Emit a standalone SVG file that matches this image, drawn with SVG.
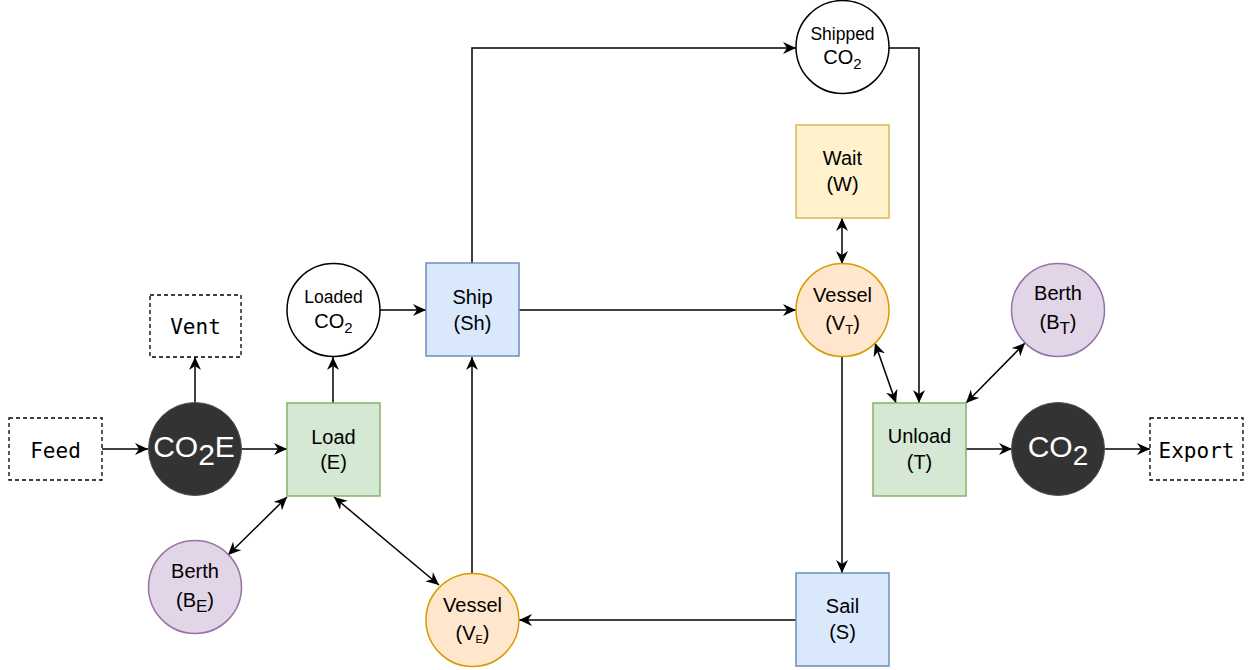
<svg xmlns="http://www.w3.org/2000/svg" width="1248" height="670" viewBox="0 0 1248 670">
  <defs>
    <marker id="arrow" viewBox="0 0 13 12" refX="13" refY="6" markerWidth="13" markerHeight="12" markerUnits="userSpaceOnUse" orient="auto-start-reverse">
      <path d="M0,0 L13,6 L0,12 L4,6 Z" fill="#000"/>
    </marker>
    <style>
      .lbl { font-family: "Liberation Sans", Arial, sans-serif; font-size: 20px; fill: #000; text-anchor: middle; }
      .sm { font-size: 17.5px; }
      .mono { font-family: "DejaVu Sans Mono", "Liberation Mono", monospace; font-size: 21px; fill: #000; text-anchor: middle; }
      .big { font-family: "Liberation Sans", Arial, sans-serif; font-size: 30px; fill: #fff; text-anchor: middle; }
      .term { fill: #fff; stroke: #000; stroke-width: 1.3; stroke-dasharray: 4 3; }
      .dark { fill: #333333; stroke: #555; stroke-width: 1; }
      .plain { fill: #fff; stroke: #000; stroke-width: 1.5; }
      .green { fill: #d5e8d4; stroke: #82b366; stroke-width: 1.5; }
      .blue { fill: #dae8fc; stroke: #6c8ebf; stroke-width: 1.5; }
      .yellow { fill: #fff2cc; stroke: #d6b656; stroke-width: 1.5; }
      .orange { fill: #ffe6cc; stroke: #d79b00; stroke-width: 1.5; }
      .purple { fill: #e1d5e7; stroke: #9673a6; stroke-width: 1.5; }
      .edge { fill: none; stroke: #000; stroke-width: 1.5; marker-end: url(#arrow); }
      .both { marker-start: url(#arrow); }
    </style>
  </defs>

  <!-- connectors -->
  <g id="connectors">
    <path class="edge" d="M102,449 L148,449"/>
    <path class="edge" d="M241,449 L287,449"/>
    <path class="edge" d="M195,402 L195,357"/>
    <path class="edge" d="M333,403 L333,357"/>
    <path class="edge" d="M380,310 L426,310"/>
    <path class="edge" d="M472,263 L472,48 L796,48"/>
    <path class="edge" d="M519,310 L796,310"/>
    <path class="edge" d="M889,48 L919,48 L919,403"/>
    <path class="edge both" d="M842,218 L842,264"/>
    <path class="edge" d="M842,356 L842,573"/>
    <path class="edge both" d="M875,343 L896,403"/>
    <path class="edge both" d="M1025,343 L966,403"/>
    <path class="edge" d="M966,449 L1012,449"/>
    <path class="edge" d="M1104,449 L1150,449"/>
    <path class="edge" d="M796,620 L519,620"/>
    <path class="edge" d="M472,573 L472,357"/>
    <path class="edge both" d="M287,497 L228,555"/>
    <path class="edge both" d="M334,497 L439,585"/>
  </g>

  <g id="feed">
    <rect class="term" x="9" y="418" width="93" height="62"/>
    <text class="mono" x="55.5" y="458">Feed</text>
  </g>

  <g id="vent">
    <rect class="term" x="150" y="295" width="91" height="62"/>
    <text class="mono" x="195.5" y="334">Vent</text>
  </g>

  <g id="co2e">
    <circle class="dark" cx="195" cy="449" r="46.5"/>
    <text class="big" x="194" y="457" font-size="29">CO<tspan dy="8">2</tspan><tspan dy="-8">E</tspan></text>
  </g>

  <g id="load">
    <rect class="green" x="287" y="403" width="93" height="93"/>
    <text class="lbl" x="333.5" y="444">Load</text>
    <text class="lbl" x="333.5" y="469">(E)</text>
  </g>

  <g id="loaded-co2">
    <circle class="plain" cx="333.5" cy="310" r="46.5"/>
    <text class="lbl sm" x="333.5" y="303">Loaded</text>
    <text class="lbl" x="333.5" y="328">CO<tspan font-size="15" dy="5">2</tspan></text>
  </g>

  <g id="berth-e">
    <circle class="purple" cx="195" cy="587" r="46.5"/>
    <text class="lbl" x="195" y="578">Berth</text>
    <text class="lbl" x="195" y="607">(B<tspan font-size="17" dy="5">E</tspan><tspan dy="-5">)</tspan></text>
  </g>

  <g id="ship">
    <rect class="blue" x="426" y="263" width="93" height="93"/>
    <text class="lbl" x="472.5" y="304">Ship</text>
    <text class="lbl" x="472.5" y="330">(Sh)</text>
  </g>

  <g id="vessel-e">
    <circle class="orange" cx="472.5" cy="620" r="46.5"/>
    <text class="lbl" x="472.5" y="612">Vessel</text>
    <text class="lbl" x="472.5" y="640">(V<tspan font-size="11" dy="3">E</tspan><tspan dy="-3">)</tspan></text>
  </g>

  <g id="shipped-co2">
    <circle class="plain" cx="842.5" cy="47" r="46.5"/>
    <text class="lbl sm" x="842.5" y="40">Shipped</text>
    <text class="lbl" x="842.5" y="64" font-size="19">CO<tspan font-size="15" dy="5">2</tspan></text>
  </g>

  <g id="wait">
    <rect class="yellow" x="796" y="125" width="93" height="93"/>
    <text class="lbl" x="842.5" y="165">Wait</text>
    <text class="lbl" x="842.5" y="191">(W)</text>
  </g>

  <g id="vessel-t">
    <circle class="orange" cx="842.5" cy="310" r="46.5"/>
    <text class="lbl" x="842.5" y="302">Vessel</text>
    <text class="lbl" x="842.5" y="330">(V<tspan font-size="13" dy="4">T</tspan><tspan dy="-4">)</tspan></text>
  </g>

  <g id="sail">
    <rect class="blue" x="796" y="573" width="93" height="93"/>
    <text class="lbl" x="842.5" y="613">Sail</text>
    <text class="lbl" x="842.5" y="639">(S)</text>
  </g>

  <g id="unload">
    <rect class="green" x="873" y="403" width="93" height="93"/>
    <text class="lbl" x="919.5" y="443">Unload</text>
    <text class="lbl" x="919.5" y="469">(T)</text>
  </g>

  <g id="berth-t">
    <circle class="purple" cx="1058" cy="310" r="46.5"/>
    <text class="lbl" x="1058" y="300">Berth</text>
    <text class="lbl" x="1058" y="329">(B<tspan font-size="17" dy="5">T</tspan><tspan dy="-5">)</tspan></text>
  </g>

  <g id="co2">
    <circle class="dark" cx="1058" cy="449" r="46.5"/>
    <text class="big" x="1058" y="457" font-size="31">CO<tspan font-size="28" dy="8">2</tspan></text>
  </g>

  <g id="export">
    <rect class="term" x="1150" y="418" width="93" height="62"/>
    <text class="mono" x="1196.5" y="458">Export</text>
  </g>
</svg>
